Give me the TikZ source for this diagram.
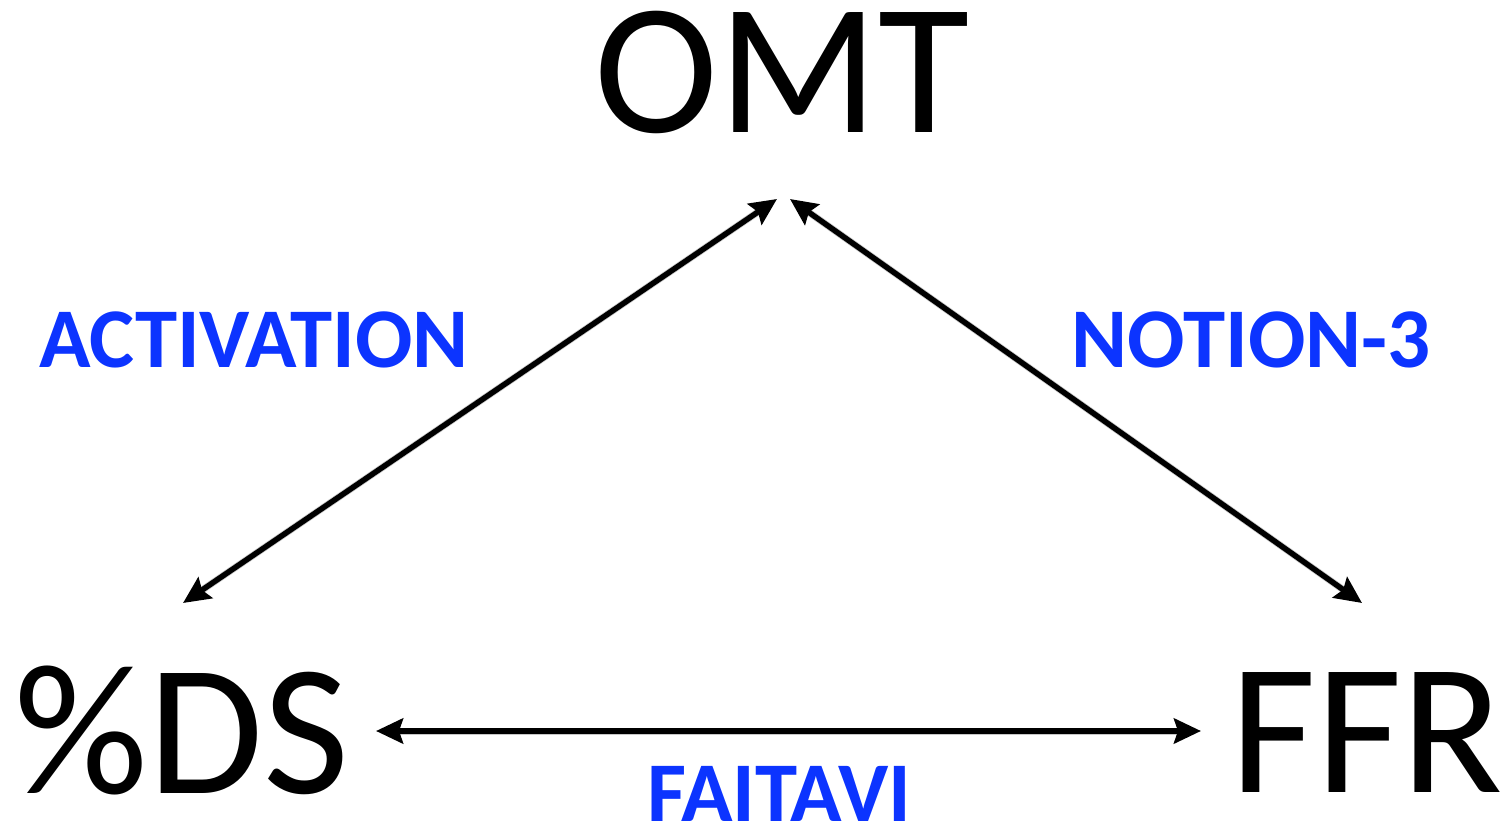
\documentclass[tikz,border=0pt]{standalone}
\usepackage{fontspec}
\setmainfont{Carlito}
\usetikzlibrary{arrows.meta}
\definecolor{lblblue}{RGB}{12,52,255}
\tikzset{
  big/.style={font=\fontsize{187}{187}\selectfont, inner sep=0pt, anchor=base, text height=120pt, text depth=0pt},
  lbl/.style={font=\fontsize{85}{85}\selectfont\bfseries, text=lblblue, inner sep=0pt, anchor=base, text height=56pt, text depth=0pt},
  conn/.style={line width=5.5pt, {Stealth[length=27pt,width=25pt,inset=4pt]}-{Stealth[length=27pt,width=25pt,inset=4pt]}},
  shad/.style={line width=7pt, draw=black!22, shorten <=8pt, shorten >=8pt}
}
\begin{document}
\begin{tikzpicture}[x=1pt,y=-1pt]
\useasboundingbox (0,0) rectangle (1509,829);
\node[big] (omt) at (782,133) {OMT};
\node[big] (ds) at (182,793) {\%DS};
\node[big] (ffr) at (1367,792) {FFR};
\node[lbl] (act) at (254,367) {ACTIVATION};
\node[lbl] (not) at (1251,367) {NOTION-3};
\node[lbl] (fai) at (779,821) {FAITAVI};
\coordinate (a1) at (183,603);
\coordinate (a2) at (777,199);
\coordinate (b1) at (790,199);
\coordinate (b2) at (1362,603);
\coordinate (c1) at (376,731);
\coordinate (c2) at (1201,731);
\begin{scope}[shift={(2,4)}]
\draw[shad] (a1) -- (a2);
\draw[shad] (b1) -- (b2);
\draw[shad] (c1) -- (c2);
\end{scope}
\draw[conn] (a1) -- (a2);
\draw[conn] (b1) -- (b2);
\draw[conn] (c1) -- (c2);
\end{tikzpicture}
\end{document}
